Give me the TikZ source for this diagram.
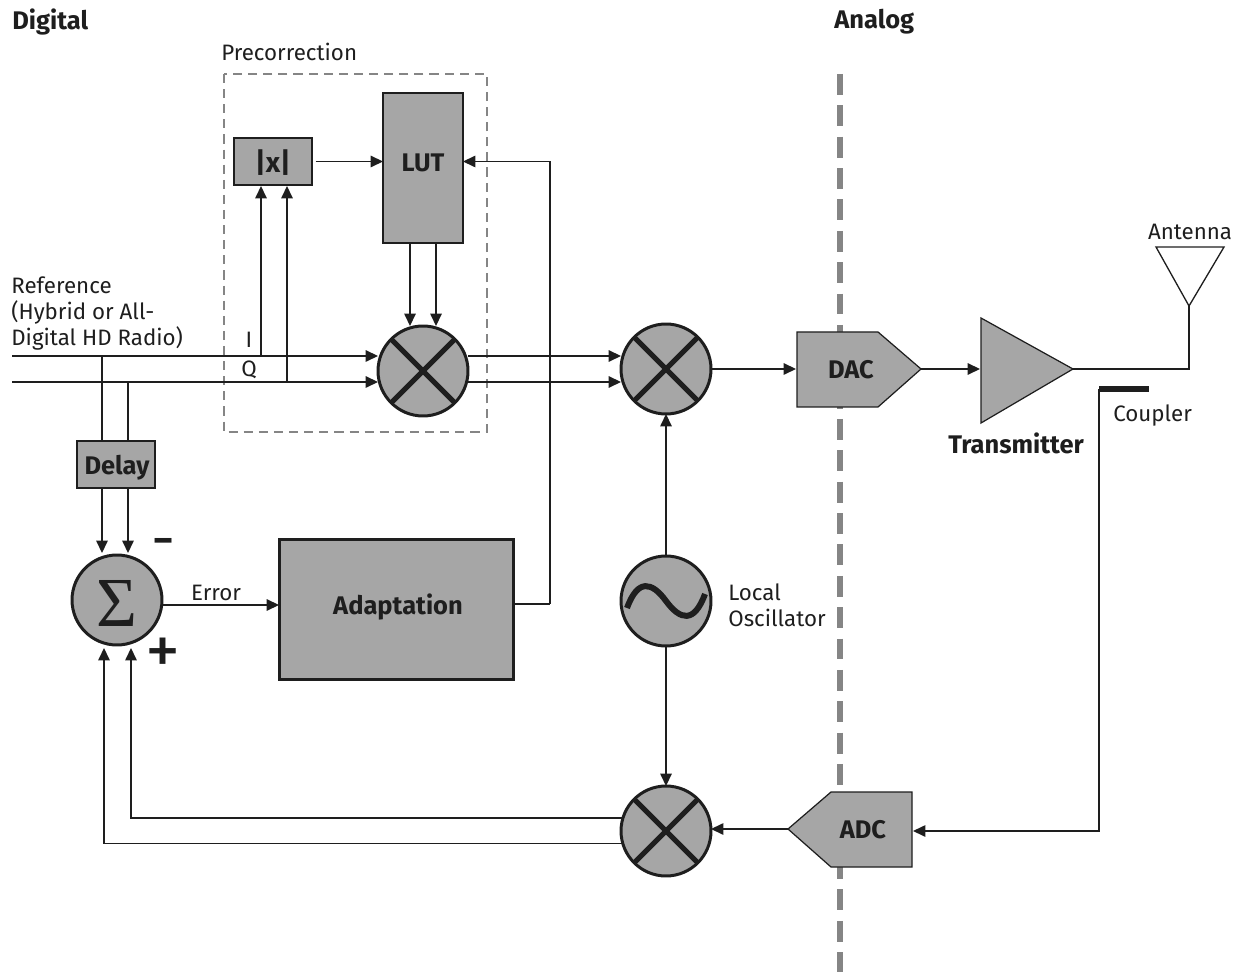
\documentclass[tikz,border=0pt]{standalone}
\usepackage{fontspec}
\setmainfont{Fira Sans}
\newfontfamily\sumfont{Liberation Serif}
\usetikzlibrary{arrows.meta}
\definecolor{boxgray}{HTML}{A6A6A6}
\definecolor{linegray}{HTML}{858585}
\definecolor{inkgray}{HTML}{1E1E1E}
\tikzset{
	sig/.style={draw=inkgray,line width=0.75pt,-{Triangle[length=7pt,width=6.5pt]}},
	wire/.style={draw=inkgray,line width=0.75pt},
	blockbox/.style={draw=inkgray,fill=boxgray,line width=0.7pt,outer sep=0pt,inner sep=0pt},
	mixer/.style={circle,draw=inkgray,fill=boxgray,line width=1.7pt,minimum size=1.8cm,outer sep=0pt,inner sep=0pt},
	crossline/.style={draw=inkgray,line width=3pt},
	lab/.style={text=inkgray,font=\fontsize{12.7}{14.8}\selectfont,inner sep=0pt},
	boldlab/.style={text=inkgray,font=\fontsize{14.5}{15}\selectfont\bfseries,inner sep=0pt},
}
\begin{document}
\begin{tikzpicture}[x=0.02cm,y=-0.02cm]
	\useasboundingbox (0,0) rectangle (1236,972);
	% digital / analog divide
	\draw[linegray,line width=3.4pt,dash pattern=on 11.9pt off 5.95pt] (840,74) -- (840,972);
	\node[boldlab,anchor=west] (digitaltext) at (12,22) {Digital};
	\node[boldlab,anchor=west] (analogtext) at (834,22) {Analog};
	% precorrection
	\node[lab,anchor=west] (precorrtext) at (221,52) {Precorrection};
	\draw[linegray,line width=0.7pt,dash pattern=on 5.2pt off 3.4pt] (224,74) rectangle (487,432);
	\node[blockbox,minimum width=1.6cm,minimum height=3cm] (lutbox) at (423,168) {};
	\node[boldlab] (luttext) at (423,163) {LUT};
	\node[blockbox,minimum width=1.56cm,minimum height=0.94cm] (absbox) at (273,161.5) {};
	\node[boldlab,font=\fontsize{16}{16}\selectfont\bfseries] (abstext) at (273,163) {|x|};
	\node[mixer] (mixA) at (423,371) {};
	\draw[crossline] (mixA.45) -- (mixA.225);
	\draw[crossline] (mixA.135) -- (mixA.315);
	% reference inputs
	\node[lab,anchor=west,align=left] (reftext) at (11,314) {Reference\\(Hybrid or All-\\Digital HD Radio)};
	\node[lab] (itext) at (249,340) {I};
	\node[lab] (qtext) at (249,370) {Q};
	\coordinate (iin) at (12,356);
	\coordinate (qin) at (12,382);
	\coordinate (absi) at (261,186);
	\coordinate (absq) at (287,186);
	\coordinate (luti) at (410,243);
	\coordinate (lutq) at (436,243);
	\draw[sig] (iin) -- (iin -| mixA.west);
	\draw[sig] (qin) -- (qin -| mixA.west);
	\draw[sig] (absi |- iin) -- (absi);
	\draw[sig] (absq |- qin) -- (absq);
	\draw[sig] (luti) -- (luti |- mixA.north);
	\draw[sig] (lutq) -- (lutq |- mixA.north);
	\draw[sig,shorten <=2pt] (absbox.east) -- (absbox.east -| lutbox.west);
	% delay and sum
	\node[blockbox,minimum width=1.56cm,minimum height=0.94cm] (delaybox) at (116,464.5) {};
	\node[boldlab] (delaytext) at (117,468) {Delay};
	\node[mixer] (sumnode) at (117,600) {};
	\node[inner sep=0pt,text=inkgray,font=\fontsize{40}{40}\sumfont] (sumtext) at (117,603) {Σ};
	\node[lab,font=\fontsize{34}{34}\selectfont] (minustext) at (164,549) {-};
	\node[lab,font=\fontsize{40}{40}\selectfont] (plustext) at (163,656) {+};
	\coordinate (delayi) at (102,441);
	\coordinate (delayq) at (128,441);
	\coordinate (sumi) at (102,553);
	\coordinate (sumq) at (128,553);
	\draw[wire] (delayi |- iin) -- (delayi);
	\draw[wire] (delayq |- qin) -- (delayq);
	\draw[sig] (delayi |- delaybox.south) -- (sumi);
	\draw[sig] (delayq |- delaybox.south) -- (sumq);
	% adaptation
	\node[blockbox,line width=1.7pt,minimum width=4.7cm,minimum height=2.82cm] (adaptbox) at (396.5,609.5) {};
	\node[boldlab] (adapttext) at (398,607) {Adaptation};
	\node[lab] (errortext) at (216,593) {Error};
	\coordinate (adaptin) at (adaptbox.west |- 0,605);
	\coordinate (adaptout) at (adaptbox.east |- 0,604);
	\coordinate (fbk) at (550,604);
	\draw[sig] (sumnode.east |- adaptin) -- (adaptin);
	\draw[wire] (adaptout) -- (fbk);
	\draw[sig] (fbk) |- (lutbox.east |- absbox.east);
	% upconversion
	\node[mixer] (mixB) at (666,369) {};
	\draw[crossline] (mixB.45) -- (mixB.225);
	\draw[crossline] (mixB.135) -- (mixB.315);
	\draw[sig] (mixA.east |- iin) -- (iin -| mixB.west);
	\draw[sig] (mixA.east |- qin) -- (qin -| mixB.west);
	\draw[blockbox] (797,332) -- (878,332) -- (921,369) -- (878,407) -- (797,407) -- cycle;
	\node[boldlab] (dactext) at (851,370) {DAC};
	\coordinate (dacin) at (796,369);
	\coordinate (dacout) at (921,369);
	\draw[sig] (mixB.east) -- (dacin);
	% transmitter and antenna
	\draw[blockbox] (981,318) -- (1073,369) -- (981,423) -- cycle;
	\node[boldlab] (txtext) at (1016,443) {Transmitter};
	\coordinate (txin) at (980,369);
	\coordinate (txout) at (1073,369);
	\draw[sig] (dacout) -- (txin);
	\draw[inkgray,line width=0.75pt] (1156,247) -- (1224,247) -- (1189,306) -- cycle;
	\node[lab] (antennatext) at (1190,232) {Antenna};
	\coordinate (antfoot) at (1189,306);
	\draw[wire] (txout) -| (antfoot);
	% coupler and return path
	\coordinate (couplera) at (1099,389);
	\coordinate (couplerb) at (1149,389);
	\draw[inkgray,line width=3.2pt] (couplera) -- (couplerb);
	\node[lab,anchor=west] (couplertext) at (1113,416) {Coupler};
	\draw[blockbox] (912,792) -- (831,792) -- (788,829) -- (831,867) -- (912,867) -- cycle;
	\node[boldlab] (adctext) at (863,830) {ADC};
	\coordinate (adcin) at (913,831);
	\coordinate (adcout) at (788,829);
	\draw[sig] (couplera) |- (adcin);
	% local oscillator and downconversion
	\node[mixer] (osc) at (666,601) {};
	\draw[draw=inkgray,line width=3.4pt] (627,608) .. controls (638,578) and (652,582) .. (666,601) .. controls (680,620) and (694,624) .. (705,594);
	\node[lab,anchor=west,align=left] (osctext) at (728,605) {Local\\Oscillator};
	\node[mixer] (mixC) at (666,831) {};
	\draw[crossline] (mixC.45) -- (mixC.225);
	\draw[crossline] (mixC.135) -- (mixC.315);
	\draw[sig] (osc.north) -- (mixB.south);
	\draw[sig] (osc.south) -- (mixC.north);
	\draw[sig] (adcout) -- (adcout -| mixC.east);
	\coordinate (sumplusa) at (131,648);
	\coordinate (sumplusb) at (104,648);
	\draw[sig] (mixC.163.6) -| (sumplusa);
	\draw[sig] (mixC.196.4) -| (sumplusb);
\end{tikzpicture}
\end{document}
